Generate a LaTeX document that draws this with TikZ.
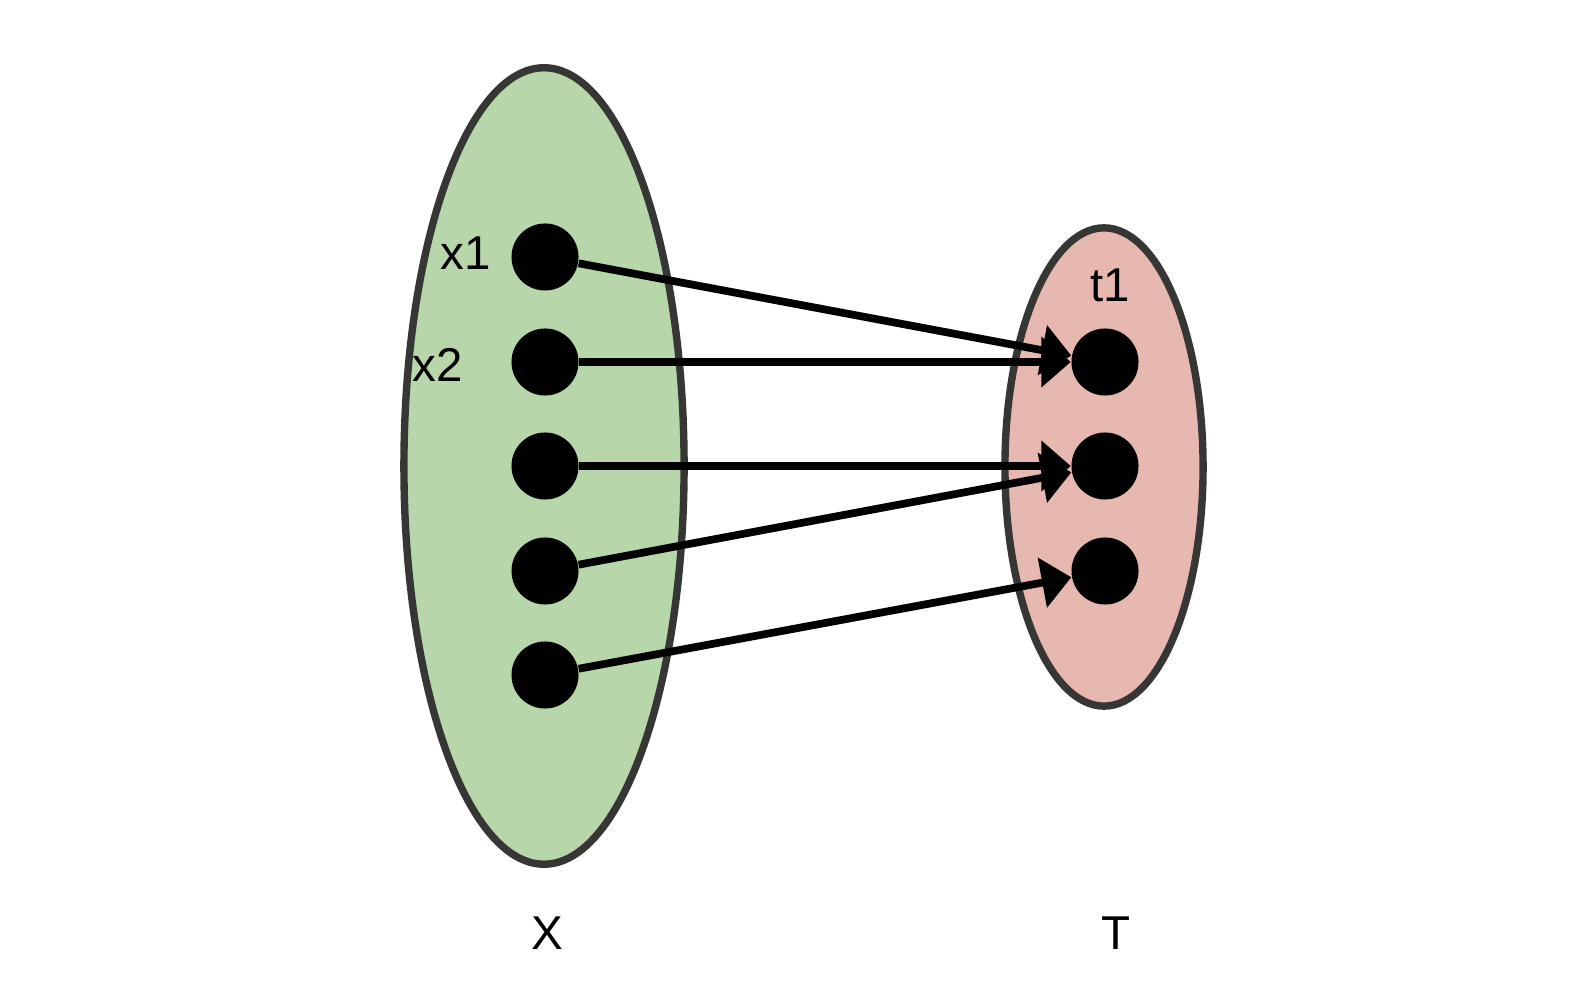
\documentclass[tikz,border=0pt]{standalone}
\usepackage{fontspec}
\setsansfont{Liberation Sans}
\usetikzlibrary{arrows.meta,positioning,shapes.geometric}

\definecolor{setgreen}{HTML}{B7D7AB}
\definecolor{setpink}{HTML}{E6B8AF}
\definecolor{rim}{HTML}{363634}

\begin{document}
\begin{tikzpicture}[
  x=0.01cm, y=-0.01cm,
  >={Triangle[length=8.4pt, width=14pt]},
  every node/.style={font=\sffamily\fontsize{13.5}{15}\selectfont},
  set/.style={draw=rim, line width=2.1pt, ellipse, inner sep=0pt},
  dot/.style={circle, fill=black, inner sep=0pt, minimum size=0.67cm},
  arrow/.style={->, line width=2.2pt}
]
  \useasboundingbox (0,0) rectangle (1586,992);

  %--- sets
  \node[set, fill=setgreen, minimum width=2.8cm, minimum height=7.96cm] (setX) at (544,466) {};
  \node[set, fill=setpink,  minimum width=1.98cm, minimum height=4.78cm] (setT) at (1104,467) {};

  %--- elements of X
  \node[dot] (x1) at (545,257) {};
  \node[dot] (x2) at (545,362) {};
  \node[dot] (x3) at (545,466) {};
  \node[dot] (x4) at (545,571) {};
  \node[dot] (x5) at (545,675) {};

  %--- elements of T
  \node[dot] (t1) at (1105,362) {};
  \node[dot] (t2) at (1105,466) {};
  \node[dot] (t3) at (1105,571) {};

  %--- labels
  \node (lx1) at (466,253) {x1};
  \node (lx2) at (438,365) {x2};
  \node (lt1) at (1110,285) {t1};
  \node (lX)  at (547,933) {X};
  \node (lT)  at (1116,933) {T};

  %============ MAPPING ============%
  \draw[arrow] (x1) -- (t1);
  \draw[arrow] (x2) -- (t1);
  \draw[arrow] (x3) -- (t2);
  \draw[arrow] (x4) -- (t2);
  \draw[arrow] (x5) -- (t3);

\end{tikzpicture}
\end{document}
